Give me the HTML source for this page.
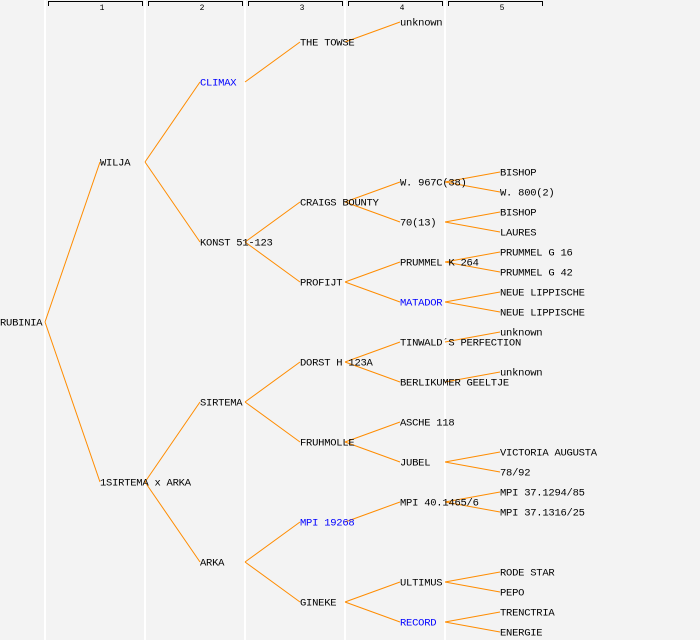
<!DOCTYPE html>
<html><head><meta charset="utf-8"><style>
body{margin:0;background:#f3f3f3;}
svg{display:block}
text{font-family:"Liberation Mono","DejaVu Sans Mono",monospace;font-size:10.5px;letter-spacing:-0.25px;fill:#000}
.b{fill:#0000ff}
.h{font-size:8px;letter-spacing:0}
</style></head><body>
<svg width="700" height="640" xmlns="http://www.w3.org/2000/svg">
<rect width="700" height="640" fill="#f3f3f3"/>
<g stroke="#fff" stroke-width="2">
<line x1="45" y1="0" x2="45" y2="640"/><line x1="145" y1="0" x2="145" y2="640"/><line x1="245" y1="0" x2="245" y2="640"/><line x1="345" y1="0" x2="345" y2="640"/><line x1="445" y1="0" x2="445" y2="640"/>
</g>
<g stroke="#000" stroke-width="1" fill="none">
<path d="M48.5 6V1.5H142.5V6"/><path d="M148.5 6V1.5H242.5V6"/><path d="M248.5 6V1.5H342.5V6"/><path d="M348.5 6V1.5H442.5V6"/><path d="M448.5 6V1.5H542.5V6"/>
</g>
<g text-anchor="middle"><text class="h" x="102" y="10">1</text><text class="h" x="202" y="10">2</text><text class="h" x="302" y="10">3</text><text class="h" x="402" y="10">4</text><text class="h" x="502" y="10">5</text></g>
<g stroke="#ff8c00" stroke-width="1" fill="none">
<path d="M45 322L100 162M45 322L100 482"/>
<path d="M145 162L200 82M145 162L200 242M145 482L200 402M145 482L200 562"/>
<path d="M245 82L300 42M245 242L300 202M245 242L300 282M245 402L300 362M245 402L300 442M245 562L300 522M245 562L300 602"/>
<path d="M345 42L400 22M345 202L400 182M345 202L400 222M345 282L400 262M345 282L400 302M345 362L400 342M345 362L400 382M345 442L400 422M345 442L400 462M345 522L400 502M345 602L400 582M345 602L400 622"/>
<path d="M445 182L500 172M445 182L500 192M445 222L500 212M445 222L500 232M445 262L500 252M445 262L500 272M445 302L500 292M445 302L500 312M445 342L500 332M445 382L500 372M445 462L500 452M445 462L500 472M445 502L500 492M445 502L500 512M445 582L500 572M445 582L500 592M445 622L500 612M445 622L500 632"/>
</g>
<g transform="translate(0,-0.5)">
<text x="0" y="326">RUBINIA</text>
<text x="100" y="166">WILJA</text><text x="100" y="486">1SIRTEMA x ARKA</text>
<text class="b" x="200" y="86">CLIMAX</text><text x="200" y="246">KONST 51-123</text><text x="200" y="406">SIRTEMA</text><text x="200" y="566">ARKA</text>
<text x="300" y="46">THE TOWSE</text><text x="300" y="206">CRAIGS BOUNTY</text><text x="300" y="286">PROFIJT</text><text x="300" y="366">DORST H 123A</text><text x="300" y="446">FRUHMOLLE</text><text class="b" x="300" y="526">MPI 19268</text><text x="300" y="606">GINEKE</text>
<text x="400" y="26">unknown</text><text x="400" y="186">W. 967C(38)</text><text x="400" y="226">70(13)</text><text x="400" y="266">PRUMMEL K 264</text><text class="b" x="400" y="306">MATADOR</text><text x="400" y="346">TINWALD´S PERFECTION</text><text x="400" y="386">BERLIKUMER GEELTJE</text><text x="400" y="426">ASCHE 118</text><text x="400" y="466">JUBEL</text><text x="400" y="506">MPI 40.1465/6</text><text x="400" y="586">ULTIMUS</text><text class="b" x="400" y="626">RECORD</text>
<text x="500" y="176">BISHOP</text><text x="500" y="196">W. 800(2)</text><text x="500" y="216">BISHOP</text><text x="500" y="236">LAURES</text><text x="500" y="256">PRUMMEL G 16</text><text x="500" y="276">PRUMMEL G 42</text><text x="500" y="296">NEUE LIPPISCHE</text><text x="500" y="316">NEUE LIPPISCHE</text><text x="500" y="336">unknown</text><text x="500" y="376">unknown</text><text x="500" y="456">VICTORIA AUGUSTA</text><text x="500" y="476">78/92</text><text x="500" y="496">MPI 37.1294/85</text><text x="500" y="516">MPI 37.1316/25</text><text x="500" y="576">RODE STAR</text><text x="500" y="596">PEPO</text><text x="500" y="616">TRENCTRIA</text><text x="500" y="636">ENERGIE</text>
</g>
</svg>
</body></html>
